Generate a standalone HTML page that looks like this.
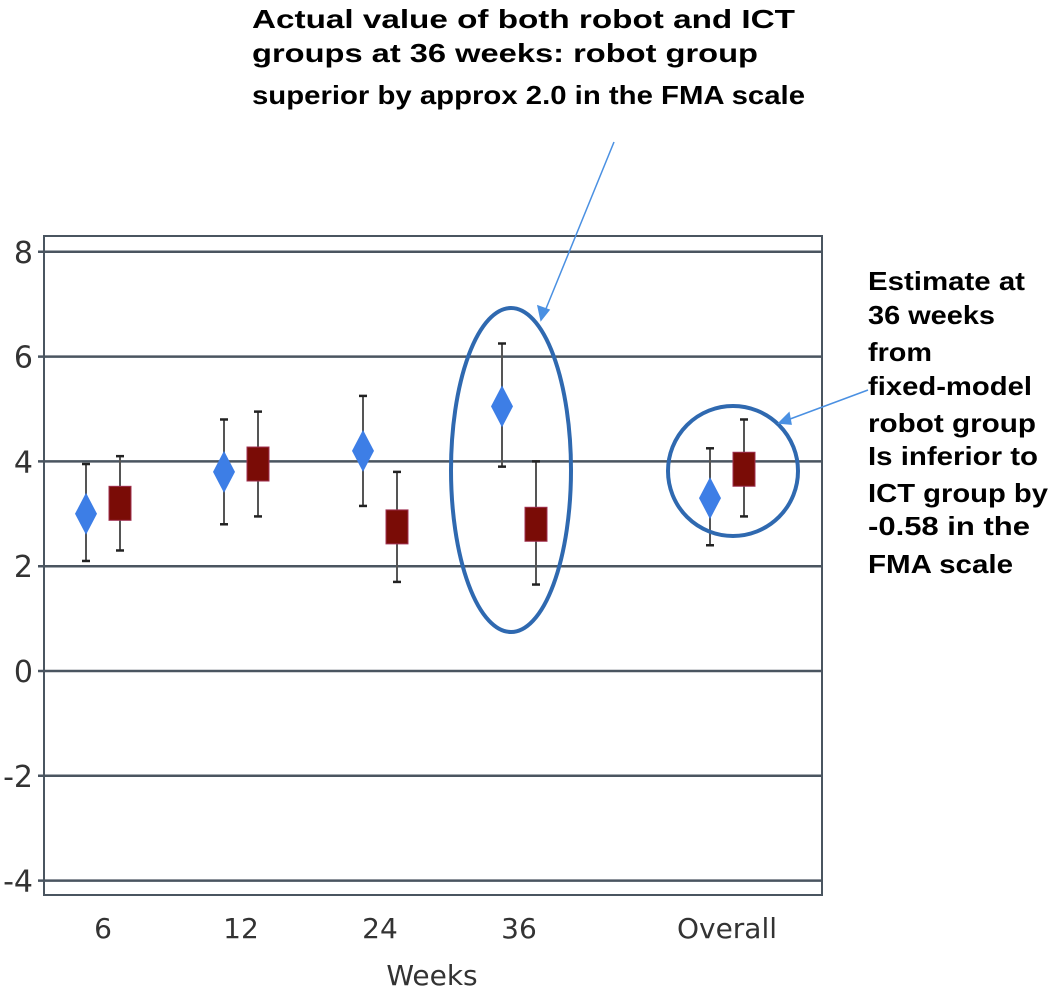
<!DOCTYPE html>
<html><head><meta charset="utf-8"><style>
body{margin:0;background:#fff;}
svg{display:block;font-family:"Liberation Sans",sans-serif;}
</style></head><body>
<svg id="chart" width="1050" height="996">
<g id="grid"></g>
<rect x="44" y="236" width="778" height="659" fill="none" stroke="#4a5560" stroke-width="2"/>
<g id="marks"></g>
<g id="xlabels"></g>
<text x="432" y="985" font-size="28" fill="#333" text-anchor="middle" font-family="'DejaVu Sans',sans-serif">Weeks</text>
<g font-weight="bold" font-size="26" fill="#000" lengthAdjust="spacingAndGlyphs">
<text x="252" y="28" textLength="543" lengthAdjust="spacingAndGlyphs">Actual value of both robot and ICT</text>
<text x="252" y="62" textLength="506" lengthAdjust="spacingAndGlyphs">groups at 36 weeks: robot group</text>
<text x="252" y="104" textLength="553" lengthAdjust="spacingAndGlyphs">superior by approx 2.0 in the FMA scale</text>
</g>
<g font-weight="bold" font-size="26" fill="#000">
<text x="868" y="290" textLength="157" lengthAdjust="spacingAndGlyphs">Estimate at</text>
<text x="868" y="324" textLength="127" lengthAdjust="spacingAndGlyphs">36 weeks</text>
<text x="868" y="361" textLength="64" lengthAdjust="spacingAndGlyphs">from</text>
<text x="868" y="395" textLength="164" lengthAdjust="spacingAndGlyphs">fixed-model</text>
<text x="868" y="432" textLength="168" lengthAdjust="spacingAndGlyphs">robot group</text>
<text x="868" y="465" textLength="170" lengthAdjust="spacingAndGlyphs">Is inferior to</text>
<text x="868" y="502" textLength="180" lengthAdjust="spacingAndGlyphs">ICT group by</text>
<text x="868" y="535" textLength="162" lengthAdjust="spacingAndGlyphs">-0.58 in the</text>
<text x="868" y="573" textLength="145" lengthAdjust="spacingAndGlyphs">FMA scale</text>
</g>
<ellipse cx="511" cy="470" rx="60" ry="162" fill="none" stroke="#2f69b0" stroke-width="4"/>
<ellipse cx="733" cy="471" rx="65" ry="65" fill="none" stroke="#2f69b0" stroke-width="4"/>
<g stroke="#4a90e2" stroke-width="1.5" fill="#4a90e2">
<line x1="614" y1="142" x2="543" y2="316"/>
<polygon points="541,320 538,306 549,310"/>
<line x1="868" y1="390" x2="782" y2="422"/>
<polygon points="779,423 789,413 791,424"/>
</g>
</svg>
<script>
const categories=["6","12","24","36","Overall"];
const robotMean=[3.0,3.8,4.2,5.05,3.3];
const robotLow=[2.1,2.8,3.15,3.9,2.4];
const robotHigh=[3.95,4.8,5.25,6.25,4.25];
const ictMean=[3.2,3.95,2.75,2.8,3.85];
const ictLow=[2.3,2.95,1.7,1.65,2.95];
const ictHigh=[4.1,4.95,3.8,4.0,4.8];
const yTicks=[8,6,4,2,0,-2,-4];
const catX=[103,241,380,519,727];
const NS="http://www.w3.org/2000/svg";
function y(v){return 671-v*52.4;}
function mk(tag,attrs,parent){const e=document.createElementNS(NS,tag);for(const k in attrs)e.setAttribute(k,attrs[k]);parent.appendChild(e);return e;}
const grid=document.getElementById('grid'),marks=document.getElementById('marks'),xl=document.getElementById('xlabels');
yTicks.forEach(t=>{
 const l=mk('line',{x1:38,x2:822,y1:y(t),y2:y(t),stroke:'#4a5560','stroke-width':2.5},grid);
 
 
 const tx=mk('text',{x:33,y:y(t)+11,'text-anchor':'end','font-size':30,fill:'#333','font-family':"'DejaVu Sans',sans-serif"},grid);
 tx.textContent=t;
 
 
});
function errbar(x,lo,hi){
 mk('line',{x1:x,x2:x,y1:y(hi),y2:y(lo),stroke:'#555','stroke-width':2},marks);
 mk('line',{x1:x-4,x2:x+4,y1:y(hi),y2:y(hi),stroke:'#222','stroke-width':2.5},marks);
 mk('line',{x1:x-4,x2:x+4,y1:y(lo),y2:y(lo),stroke:'#222','stroke-width':2.5},marks);
}
categories.forEach((c,i)=>{
 const xr=catX[i]-17,xi=catX[i]+17;
 errbar(xr,robotLow[i],robotHigh[i]);
 const d=mk('polygon',{points:`${xr},${y(robotMean[i])-21} ${xr+11},${y(robotMean[i])} ${xr},${y(robotMean[i])+21} ${xr-11},${y(robotMean[i])}`,fill:'#3d7ee6'},marks);
 
 
 errbar(xi,ictLow[i],ictHigh[i]);
 const s=mk('rect',{x:xi-11,y:y(ictMean[i])-17,width:22,height:34,fill:'#7a0c06',stroke:'#a03050','stroke-width':1},marks);
 
 
 const t=mk('text',{x:catX[i],y:938,'text-anchor':'middle','font-size':28,fill:'#333','font-family':"'DejaVu Sans',sans-serif"},xl);
 t.textContent=c;
 
 
});
</script>
</body></html>
